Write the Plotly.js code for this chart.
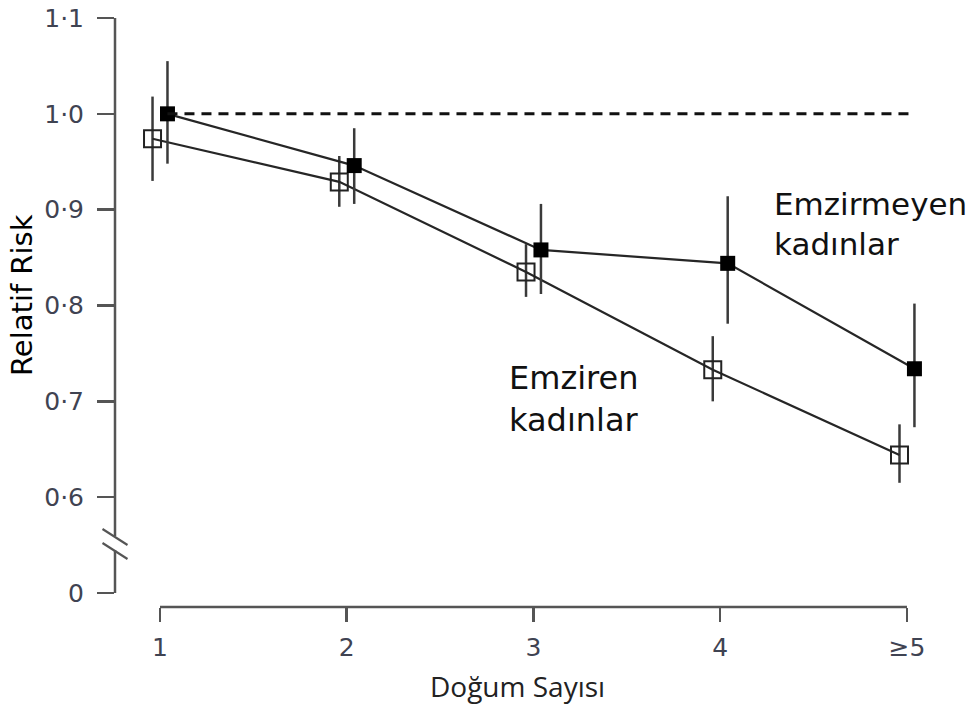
<!DOCTYPE html>
<html>
<head>
<meta charset="utf-8">
<script src="https://cdn.plot.ly/plotly-3.0.1.min.js"></script>
<style>html,body{margin:0;padding:0;background:#fff;}</style>
</head>
<body>
<div id="chart" style="width:978px;height:707px;"></div>
<script>
// ---- data ----
var parity = [1, 2, 3, 4, 5];
var parityLabels = ['1', '2', '3', '4', '\u22655'];

// Non-breastfeeding women (filled squares)
var nonBfRR    = [1.000, 0.946, 0.858, 0.844, 0.734];
var nonBfUpper = [1.055, 0.985, 0.906, 0.914, 0.802];
var nonBfLower = [0.948, 0.906, 0.812, 0.781, 0.673];

// Breastfeeding women (open squares)
var bfRR    = [0.974, 0.929, 0.835, 0.733, 0.644];
var bfUpper = [1.018, 0.956, 0.864, 0.768, 0.676];
var bfLower = [0.930, 0.903, 0.809, 0.700, 0.615];

var yTickVals = [0.5, 0.6, 0.7, 0.8, 0.9, 1.0, 1.1];
var yTickText = ['0', '0\u00b76', '0\u00b77', '0\u00b78', '0\u00b79', '1\u00b70', '1\u00b71'];
var referenceRR = 1.0;

// ---- helpers ----
var offset = 0.04;
function shift(arr, d) { return arr.map(function (v) { return v + d; }); }
function diff(a, b) { return a.map(function (v, i) { return Math.abs(v - b[i]); }); }

var tickColor = '#3f4352';
var axisColor = '#555555';

var traces = [
  {
    x: shift(parity, -offset), y: bfRR, type: 'scatter', mode: 'lines+markers',
    line: {color: '#262626', width: 2.2},
    marker: {symbol: 'square-open', size: 17, color: '#222', line: {width: 2, color: '#222'}},
    error_y: {type: 'data', symmetric: false, array: diff(bfUpper, bfRR), arrayminus: diff(bfRR, bfLower),
              color: '#3a3a3a', thickness: 2.5, width: 0},
    hoverinfo: 'x+y'
  },
  {
    x: shift(parity, offset), y: nonBfRR, type: 'scatter', mode: 'lines+markers',
    line: {color: '#262626', width: 2.2},
    marker: {symbol: 'square', size: 15, color: '#000'},
    error_y: {type: 'data', symmetric: false, array: diff(nonBfUpper, nonBfRR), arrayminus: diff(nonBfRR, nonBfLower),
              color: '#3a3a3a', thickness: 2.5, width: 0},
    hoverinfo: 'x+y'
  }
];

var shapes = [
  // broken y-axis line
  {type: 'line', xref: 'paper', yref: 'y', x0: 0, x1: 0, y0: 0.5595, y1: 1.1, line: {color: axisColor, width: 2.5}},
  {type: 'line', xref: 'paper', yref: 'y', x0: 0, x1: 0, y0: 0.5, y1: 0.5449, line: {color: axisColor, width: 2.5}},
  // break marks
  {type: 'line', xref: 'paper', yref: 'y', xsizemode: 'pixel', ysizemode: 'pixel', xanchor: 0, yanchor: 0.5584,
   x0: -12.5, x1: 12.5, y0: 8, y1: -8, line: {color: axisColor, width: 2.2}},
  {type: 'line', xref: 'paper', yref: 'y', xsizemode: 'pixel', ysizemode: 'pixel', xanchor: 0, yanchor: 0.5438,
   x0: -12.5, x1: 12.5, y0: 8, y1: -8, line: {color: axisColor, width: 2.2}},
  // x-axis line
  {type: 'line', xref: 'x', yref: 'paper', x0: parity[0], x1: parity[parity.length - 1], y0: 0, y1: 0,
   line: {color: axisColor, width: 2.5}},
  // reference dashed line at RR = 1
  {type: 'line', xref: 'x', yref: 'y', x0: parity[0] + offset, x1: parity[parity.length - 1] + 0.02,
   y0: referenceRR, y1: referenceRR, line: {color: '#111', width: 3, dash: '10px,7px'}}
];

var annotations = [
  {text: 'Emzirmeyen<br>kadınlar', xref: 'paper', yref: 'paper', x: (772 - 115) / 845, y: (607 - 224) / 589,
   xanchor: 'left', yanchor: 'middle', align: 'left', showarrow: false,
   font: {family: 'DejaVu Sans', size: 31, color: '#111'}},
  {text: 'Emziren<br>kadınlar', xref: 'paper', yref: 'paper', x: (507 - 115) / 845, y: (607 - 399) / 589,
   xanchor: 'left', yanchor: 'middle', align: 'left', showarrow: false,
   font: {family: 'DejaVu Sans', size: 32, color: '#111'}},
  {text: 'Relatif Risk', xref: 'paper', yref: 'paper', x: (22 - 115) / 845, y: (607 - 295) / 589,
   xanchor: 'center', yanchor: 'middle', textangle: -90, showarrow: false,
   font: {family: 'DejaVu Sans', size: 29, color: '#000'}},
  {text: 'Doğum Sayısı', xref: 'paper', yref: 'paper', x: (517 - 115) / 845, y: (607 - 686) / 589,
   xanchor: 'center', yanchor: 'middle', showarrow: false, borderpad: 0,
   font: {family: 'Open Sans', size: 28, color: '#222'}}
];

var layout = {
  width: 978, height: 707,
  margin: {l: 115, r: 18, t: 18, b: 100, pad: 0},
  paper_bgcolor: '#fff', plot_bgcolor: '#fff',
  showlegend: false,
  xaxis: {
    range: [0.759, 5.284], tickmode: 'array', tickvals: parity, ticktext: parityLabels,
    ticks: 'outside', ticklen: 14, tickwidth: 2.5, tickcolor: axisColor,
    showline: false, showgrid: false, zeroline: false, ticklabelstandoff: 4,
    tickfont: {family: 'DejaVu Sans', size: 25, color: tickColor}
  },
  yaxis: {
    range: [0.4854, 1.1], tickmode: 'array', tickvals: yTickVals, ticktext: yTickText,
    ticks: 'outside', ticklen: 17, tickwidth: 2.5, tickcolor: axisColor,
    showline: false, showgrid: false, zeroline: false, ticklabelstandoff: 8,
    tickfont: {family: 'DejaVu Sans', size: 25, color: tickColor}
  },
  shapes: shapes,
  annotations: annotations
};

Plotly.newPlot('chart', traces, layout, {displayModeBar: false, staticPlot: true});
</script>
</body>
</html>
